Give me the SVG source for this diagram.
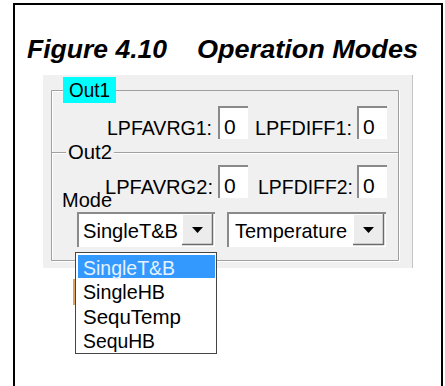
<svg xmlns="http://www.w3.org/2000/svg" width="445" height="386" viewBox="0 0 445 386">
<style>
.t{font-family:"Liberation Sans",Arial,sans-serif;font-size:21px;fill:#000}
.title{font-family:"Liberation Sans",Arial,sans-serif;font-size:26.5px;font-weight:bold;font-style:italic;fill:#000}
.gl{stroke:#a0a0a0;stroke-width:1;fill:none}
.gh{stroke:#ffffff;stroke-width:1;fill:none}
.sd{stroke:#8a8a8a;stroke-width:2;fill:none}
.bd{stroke:#6a6a6a;stroke-width:1.5;fill:none}
.bl{stroke:#ffffff;stroke-width:1;fill:none}
.wbox{fill:#ffffff}
.btn{fill:#ececec}
.tri{fill:#000}
.sel{font-family:"Liberation Sans",Arial,sans-serif;font-size:21px;fill:#e6f2ff}
</style>
<rect width="445" height="386" fill="#ffffff"/>
<path d="M14,392V4H442V392" fill="none" stroke="#000" stroke-width="2"/>
<g id="title">
<text class="title" x="27" y="58" textLength="140" lengthAdjust="spacingAndGlyphs">Figure 4.10</text>
<text class="title" x="197" y="58" textLength="221" lengthAdjust="spacingAndGlyphs">Operation Modes</text>
</g>
<g id="panel">
<rect x="43" y="75" width="370" height="193" fill="#f0f0f0"/>
<line x1="412.5" y1="75" x2="412.5" y2="268" stroke="#c4c4c4"/>
</g>
<g id="groupbox-out1">
<path class="gl" d="M63,90.5H51.5V260.5H398.5V90.5H116"/>
<path class="gh" d="M63,91.5H52.5V259.5M52.5,261.5H399.5V90"/>
<rect x="63" y="77" width="53" height="26" fill="#00ffff"/>
<text class="t" x="69" y="97" textLength="41" lengthAdjust="spacingAndGlyphs">Out1</text>
</g>
<g id="groupbox-out2">
<path class="gl" d="M52,152.5H66M114,152.5H398"/>
<path class="gh" d="M52,153.5H66M114,153.5H398"/>
<text class="t" x="68" y="159" textLength="44" lengthAdjust="spacingAndGlyphs">Out2</text>
</g>
<g id="row1">
<text class="t" x="107" y="135" textLength="105" lengthAdjust="spacingAndGlyphs">LPFAVRG1:</text>
<rect class="wbox" x="218" y="106" width="30" height="33"/>
<path class="sd" d="M219,139V107H248"/>
<text class="t" x="224" y="134">0</text>
<text class="t" x="255" y="135" textLength="97" lengthAdjust="spacingAndGlyphs">LPFDIFF1:</text>
<rect class="wbox" x="357" y="106" width="30" height="33"/>
<path class="sd" d="M358,139V107H387"/>
<text class="t" x="363" y="134">0</text>
</g>
<g id="row2">
<text class="t" x="105" y="194" textLength="108" lengthAdjust="spacingAndGlyphs">LPFAVRG2:</text>
<rect class="wbox" x="218" y="165" width="30" height="33"/>
<path class="sd" d="M219,198V166H248"/>
<text class="t" x="224" y="193">0</text>
<text class="t" x="258" y="194" textLength="95" lengthAdjust="spacingAndGlyphs">LPFDIFF2:</text>
<rect class="wbox" x="357" y="165" width="30" height="33"/>
<path class="sd" d="M358,198V166H387"/>
<text class="t" x="363" y="193">0</text>
</g>
<g id="mode-label">
<text class="t" x="62" y="207" textLength="50" lengthAdjust="spacingAndGlyphs">Mode</text>
</g>
<g id="combo-mode">
<rect class="wbox" x="77" y="212" width="138" height="35"/>
<path class="sd" d="M78,247V213H215"/>
<rect class="btn" x="182" y="214" width="31" height="31"/>
<path class="bl" d="M182.5,245V214.5H213"/>
<path class="bd" d="M182,244.5H212.5V214"/>
<polygon class="tri" points="192,227 203,227 197.5,233"/>
<text class="t" x="83" y="238" textLength="95" lengthAdjust="spacingAndGlyphs">SingleT&amp;B</text>
</g>
<g id="combo-source">
<rect class="wbox" x="227" y="212" width="159" height="35"/>
<path class="sd" d="M228,247V213H386"/>
<rect class="btn" x="353" y="214" width="31" height="31"/>
<path class="bl" d="M353.5,245V214.5H384"/>
<path class="bd" d="M353,244.5H383.5V214"/>
<polygon class="tri" points="363,227 374,227 368.5,233"/>
<text class="t" x="235" y="238" textLength="112" lengthAdjust="spacingAndGlyphs">Temperature</text>
</g>
<g id="dropdown-list">
<rect x="73" y="279" width="3" height="26" fill="#e0a060"/>
<rect x="75.5" y="252.5" width="141" height="101" fill="#ffffff" stroke="#444" stroke-width="1"/>
<rect x="78" y="255" width="137" height="23" fill="#3399ff"/>
<text class="sel" x="83" y="275" textLength="92" lengthAdjust="spacingAndGlyphs">SingleT&amp;B</text>
<text class="t" x="83" y="299" textLength="82" lengthAdjust="spacingAndGlyphs">SingleHB</text>
<text class="t" x="83" y="324" textLength="98" lengthAdjust="spacingAndGlyphs">SequTemp</text>
<text class="t" x="83" y="348" textLength="72" lengthAdjust="spacingAndGlyphs">SequHB</text>
</g>
</svg>
